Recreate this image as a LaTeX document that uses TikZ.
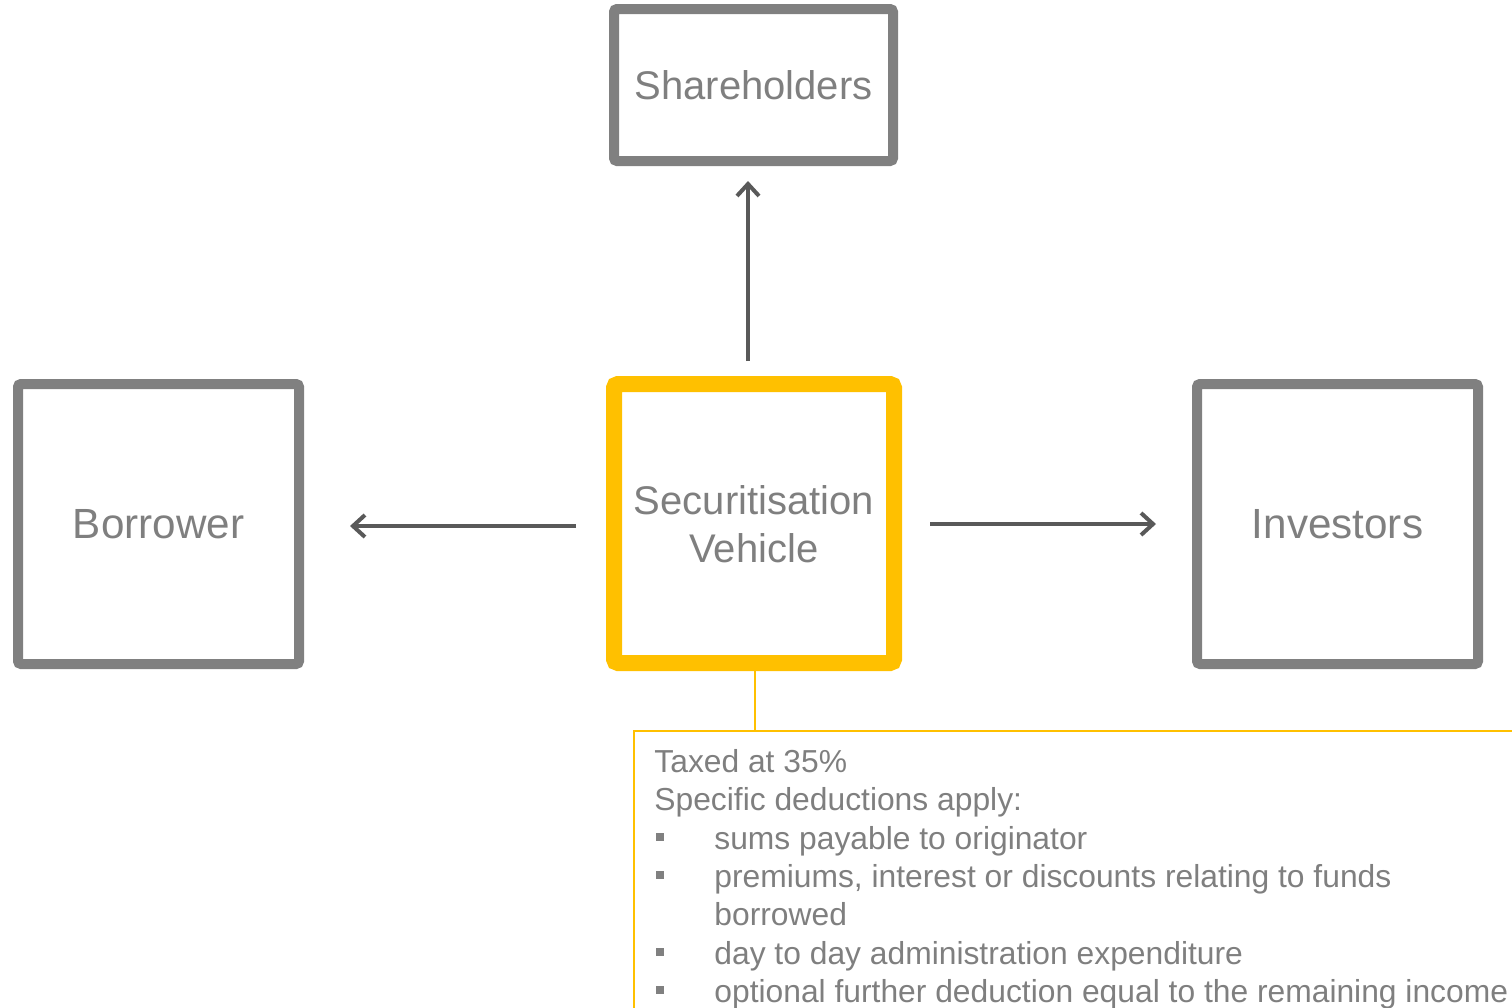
\documentclass[tikz,border=0pt]{standalone}
\usepackage{fontspec}
\setmainfont{Liberation Sans}
\usetikzlibrary{arrows.meta}
\definecolor{boxgray}{HTML}{808080}
\definecolor{txtgray}{HTML}{7F7F7F}
\definecolor{arrgray}{HTML}{595959}
\definecolor{ey}{HTML}{FFC000}
\tikzset{
  grbox/.style={draw=boxgray, line width=5pt, rounded corners=1.5pt, inner sep=0pt,
    text=txtgray, font=\fontsize{20}{24}\selectfont, align=center},
  bigtxt/.style={font=\fontsize{21.1}{25}\selectfont},
  svbox/.style={draw=ey, line width=8pt, rounded corners=2pt, inner sep=0pt,
    text=txtgray, font=\fontsize{20}{24}\selectfont, align=center},
  flow/.style={draw=arrgray, line width=2pt, -{Straight Barb[length=6pt,width=11pt,line width=2pt]}},
  noteline/.style={draw=ey, line width=1pt},
  notetxt/.style={anchor=base west, inner sep=0pt, text=txtgray, font=\fontsize{15.9}{19}\selectfont},
  bul/.style={fill=boxgray, draw=none, inner sep=0pt, minimum size=4pt}
}
\begin{document}
\begin{tikzpicture}[x=0.5pt,y=-0.5pt]
\useasboundingbox (0,0) rectangle (1512,1008);
\clip (0,0) rectangle (1512,1008);
% boxes
\node[grbox, minimum width=139.5pt, minimum height=76pt] (sh) at (753.5,85) {Shareholders};
\node[grbox, bigtxt, minimum width=140.5pt, minimum height=140pt, text depth=0pt] (bo) at (158.5,524) {Borrower};
\node[svbox, minimum width=140pt, minimum height=139.5pt, text depth=0pt] (sv) at (754,523.5) {Securitisation\\Vehicle};
\node[grbox, bigtxt, minimum width=140.5pt, minimum height=140pt, text depth=0pt] (in) at (1337.5,524) {Investors};
% arrow end points
\coordinate (svup) at (748,361);
\coordinate (shdn) at (748,181);
\coordinate (svlt) at (576,526);
\coordinate (bort) at (350,526);
\coordinate (svrt) at (930,524);
\coordinate (inlt) at (1156,524);
\draw[flow] (svup) -- (shdn);
\draw[flow] (svlt) -- (bort);
\draw[flow] (svrt) -- (inlt);
% note
\coordinate (notetop) at (755,731);
\draw[noteline] (755,662) -- (notetop);
\draw[noteline] (1530,731) -| (634,1030);
\node[notetxt] (t1) at (654,772) {Taxed at 35\%};
\node[notetxt] (t2) at (654,810.5) {Specific deductions apply:};
\node[notetxt] (t3) at (714,849) {sums payable to originator};
\node[notetxt] (t4) at (714,887) {premiums, interest or discounts relating to funds};
\node[notetxt] (t5) at (714,925.5) {borrowed};
\node[notetxt] (t6) at (714,964) {day to day administration expenditure};
\node[notetxt] (t7) at (714,1002) {optional further deduction equal to the remaining income};
\node[bul] (b1) at (660,837) {};
\node[bul] (b2) at (660,875) {};
\node[bul] (b3) at (660,952) {};
\node[bul] (b4) at (660,990) {};
\end{tikzpicture}
\end{document}
